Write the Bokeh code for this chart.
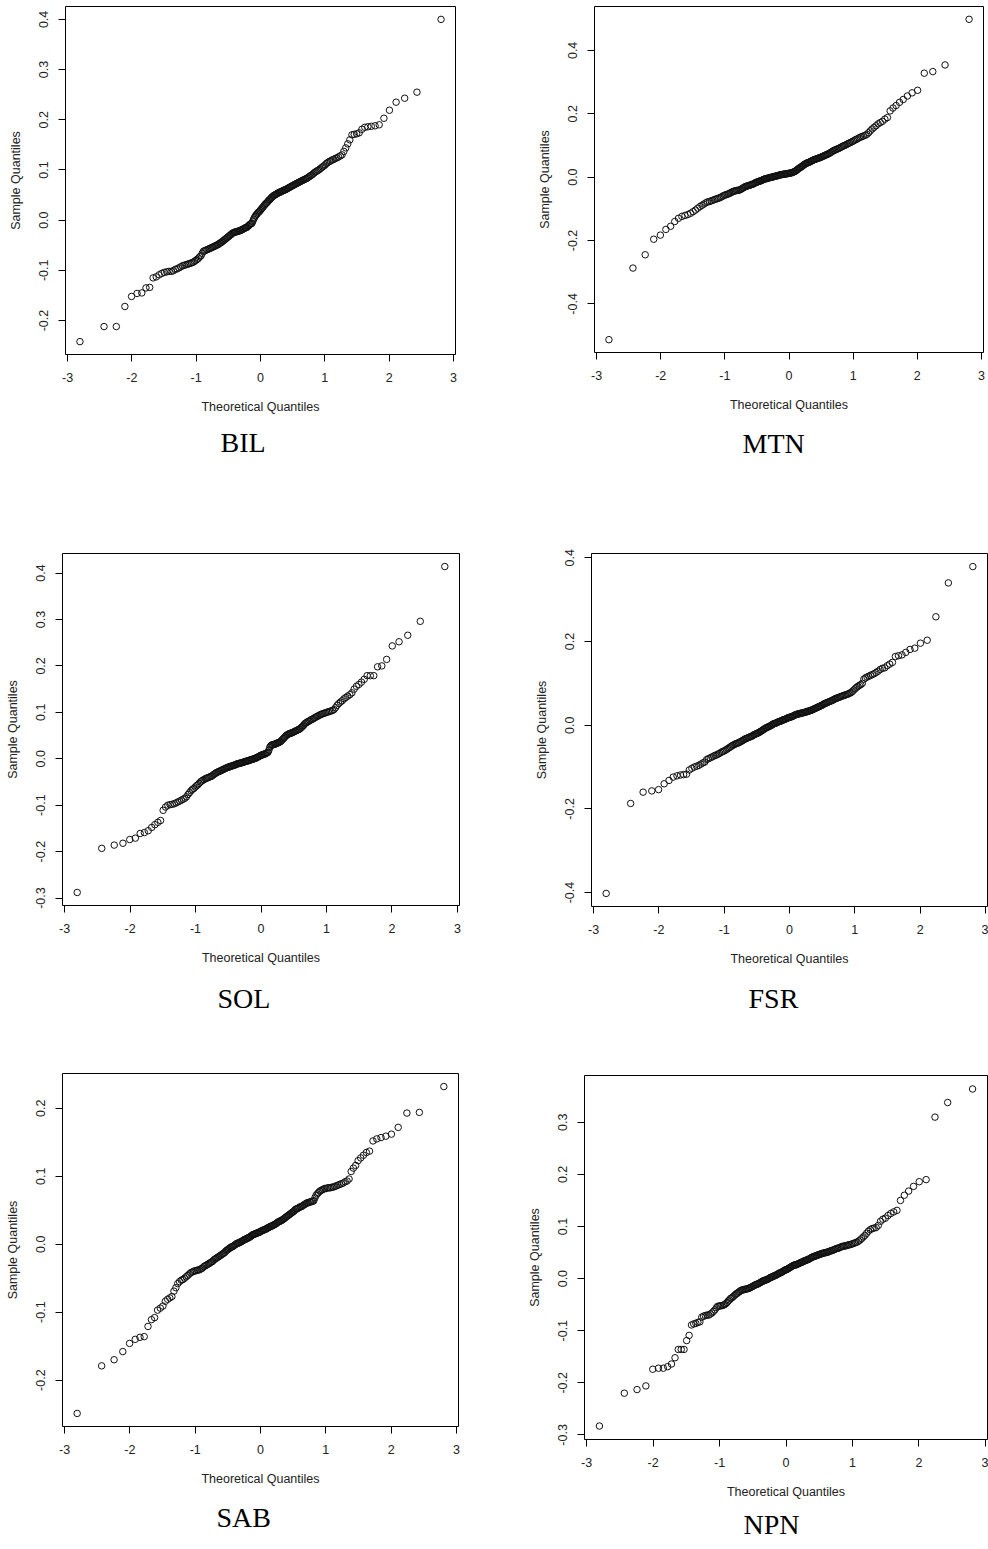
from statistics import NormalDist
from bokeh.plotting import figure
from bokeh.models import Range1d, FixedTicker, PrintfTickFormatter, Title
from bokeh.layouts import column, row
from bokeh.embed import file_html
from bokeh.resources import INLINE

# ---------------- data (sorted sample quantiles) ----------------
panel_names = ["BIL", "MTN", "SOL", "FSR", "SAB", "NPN"]

bil = [
    -0.242, -0.212, -0.212, -0.172, -0.152, -0.146, -0.145, -0.135, -0.134, -0.115,
    -0.113, -0.109, -0.106, -0.104, -0.103, -0.102, -0.102, -0.101, -0.098, -0.097,
    -0.095, -0.093, -0.091, -0.090, -0.089, -0.088, -0.087, -0.086, -0.085, -0.084,
    -0.082, -0.080, -0.078, -0.076, -0.073, -0.071, -0.066, -0.062, -0.061, -0.060,
    -0.059, -0.058, -0.057, -0.056, -0.055, -0.054, -0.053, -0.052, -0.051, -0.050,
    -0.049, -0.048, -0.046, -0.045, -0.044, -0.042, -0.041, -0.039, -0.038, -0.036,
    -0.035, -0.033, -0.032, -0.030, -0.029, -0.027, -0.026, -0.025, -0.024, -0.024,
    -0.023, -0.023, -0.022, -0.022, -0.021, -0.020, -0.020, -0.019, -0.018, -0.017,
    -0.016, -0.015, -0.015, -0.014, -0.012, -0.011, -0.009, -0.008, -0.007, -0.006,
    -0.002, 0.002, 0.005, 0.008, 0.010, 0.012, 0.014, 0.016, 0.017, 0.019,
    0.021, 0.023, 0.025, 0.027, 0.029, 0.031, 0.033, 0.034, 0.036, 0.038,
    0.040, 0.041, 0.043, 0.045, 0.046, 0.048, 0.049, 0.050, 0.051, 0.052,
    0.053, 0.054, 0.055, 0.056, 0.056, 0.057, 0.058, 0.059, 0.060, 0.060,
    0.061, 0.062, 0.063, 0.064, 0.065, 0.066, 0.067, 0.068, 0.069, 0.070,
    0.071, 0.072, 0.073, 0.074, 0.075, 0.076, 0.077, 0.078, 0.079, 0.080,
    0.081, 0.082, 0.083, 0.084, 0.086, 0.087, 0.089, 0.090, 0.092, 0.094,
    0.096, 0.097, 0.099, 0.100, 0.102, 0.104, 0.106, 0.108, 0.110, 0.113,
    0.115, 0.117, 0.118, 0.120, 0.121, 0.123, 0.124, 0.126, 0.128, 0.130,
    0.137, 0.144, 0.152, 0.160, 0.170, 0.171, 0.172, 0.174, 0.181, 0.185,
    0.186, 0.187, 0.188, 0.190, 0.203, 0.219, 0.235, 0.243, 0.255, 0.400,
]

mtn = [
    -0.513, -0.287, -0.245, -0.196, -0.183, -0.165, -0.155, -0.140, -0.130, -0.124,
    -0.121, -0.118, -0.114, -0.109, -0.104, -0.098, -0.093, -0.089, -0.085, -0.081,
    -0.078, -0.077, -0.075, -0.073, -0.071, -0.069, -0.068, -0.066, -0.064, -0.062,
    -0.059, -0.057, -0.056, -0.054, -0.053, -0.051, -0.049, -0.047, -0.045, -0.044,
    -0.043, -0.042, -0.042, -0.041, -0.040, -0.038, -0.036, -0.034, -0.032, -0.030,
    -0.029, -0.028, -0.027, -0.026, -0.025, -0.024, -0.023, -0.022, -0.020, -0.019,
    -0.017, -0.016, -0.015, -0.014, -0.013, -0.012, -0.011, -0.010, -0.008, -0.007,
    -0.006, -0.005, -0.005, -0.004, -0.003, -0.002, -0.002, -0.001, 0.000, 0.000,
    0.001, 0.002, 0.002, 0.003, 0.004, 0.004, 0.005, 0.006, 0.007, 0.007,
    0.008, 0.008, 0.009, 0.009, 0.010, 0.010, 0.010, 0.011, 0.011, 0.012,
    0.012, 0.013, 0.013, 0.014, 0.015, 0.016, 0.017, 0.018, 0.020, 0.022,
    0.024, 0.026, 0.028, 0.030, 0.031, 0.033, 0.035, 0.037, 0.039, 0.041,
    0.042, 0.044, 0.045, 0.046, 0.047, 0.048, 0.050, 0.051, 0.052, 0.054,
    0.055, 0.056, 0.057, 0.058, 0.059, 0.060, 0.061, 0.062, 0.063, 0.065,
    0.066, 0.067, 0.069, 0.070, 0.071, 0.073, 0.074, 0.076, 0.078, 0.080,
    0.082, 0.084, 0.085, 0.087, 0.088, 0.090, 0.091, 0.093, 0.095, 0.097,
    0.099, 0.100, 0.102, 0.104, 0.106, 0.108, 0.110, 0.112, 0.114, 0.117,
    0.119, 0.121, 0.124, 0.126, 0.128, 0.130, 0.132, 0.135, 0.140, 0.146,
    0.152, 0.157, 0.162, 0.168, 0.172, 0.176, 0.183, 0.188, 0.209, 0.218,
    0.226, 0.236, 0.245, 0.256, 0.266, 0.274, 0.328, 0.333, 0.354, 0.498,
]

sol = [
    -0.288, -0.193, -0.186, -0.182, -0.174, -0.171, -0.161, -0.159, -0.155, -0.148,
    -0.142, -0.137, -0.133, -0.111, -0.104, -0.100, -0.099, -0.098, -0.097, -0.095,
    -0.093, -0.091, -0.089, -0.087, -0.085, -0.082, -0.077, -0.073, -0.069, -0.066,
    -0.064, -0.061, -0.058, -0.056, -0.053, -0.050, -0.048, -0.046, -0.045, -0.043,
    -0.042, -0.041, -0.040, -0.039, -0.038, -0.037, -0.035, -0.033, -0.032, -0.030,
    -0.029, -0.028, -0.027, -0.026, -0.025, -0.024, -0.023, -0.022, -0.021, -0.020,
    -0.019, -0.018, -0.018, -0.017, -0.016, -0.016, -0.015, -0.014, -0.014, -0.013,
    -0.012, -0.011, -0.011, -0.010, -0.010, -0.009, -0.009, -0.008, -0.008, -0.007,
    -0.006, -0.006, -0.005, -0.005, -0.004, -0.004, -0.003, -0.002, -0.002, -0.001,
    -0.001, 0.000, 0.001, 0.001, 0.002, 0.003, 0.004, 0.005, 0.006, 0.007,
    0.008, 0.008, 0.009, 0.010, 0.010, 0.011, 0.012, 0.013, 0.014, 0.018,
    0.024, 0.027, 0.029, 0.030, 0.030, 0.031, 0.031, 0.032, 0.033, 0.034,
    0.034, 0.035, 0.036, 0.037, 0.039, 0.041, 0.043, 0.045, 0.047, 0.049,
    0.051, 0.052, 0.053, 0.054, 0.055, 0.055, 0.056, 0.057, 0.058, 0.059,
    0.060, 0.061, 0.062, 0.063, 0.064, 0.066, 0.068, 0.070, 0.072, 0.075,
    0.077, 0.078, 0.080, 0.081, 0.082, 0.084, 0.085, 0.086, 0.088, 0.089,
    0.091, 0.092, 0.093, 0.095, 0.096, 0.097, 0.098, 0.099, 0.100, 0.101,
    0.102, 0.103, 0.104, 0.106, 0.110, 0.115, 0.119, 0.122, 0.125, 0.129,
    0.132, 0.135, 0.138, 0.142, 0.150, 0.156, 0.160, 0.165, 0.171, 0.179,
    0.179, 0.179, 0.198, 0.200, 0.214, 0.243, 0.252, 0.266, 0.296, 0.414,
]

fsr = [
    -0.402, -0.187, -0.160, -0.157, -0.154, -0.140, -0.132, -0.124, -0.121, -0.119,
    -0.118, -0.117, -0.107, -0.103, -0.100, -0.098, -0.096, -0.093, -0.090, -0.088,
    -0.082, -0.080, -0.078, -0.076, -0.074, -0.072, -0.071, -0.069, -0.067, -0.065,
    -0.063, -0.062, -0.060, -0.058, -0.056, -0.054, -0.052, -0.050, -0.048, -0.047,
    -0.045, -0.044, -0.043, -0.042, -0.041, -0.039, -0.038, -0.036, -0.035, -0.033,
    -0.032, -0.031, -0.030, -0.029, -0.028, -0.027, -0.026, -0.025, -0.023, -0.022,
    -0.021, -0.020, -0.019, -0.018, -0.017, -0.015, -0.014, -0.013, -0.011, -0.010,
    -0.008, -0.007, -0.006, -0.005, -0.004, -0.003, -0.002, -0.001, 0.000, 0.002,
    0.003, 0.004, 0.004, 0.005, 0.006, 0.007, 0.008, 0.009, 0.009, 0.010,
    0.011, 0.012, 0.013, 0.013, 0.014, 0.015, 0.016, 0.017, 0.018, 0.018,
    0.019, 0.020, 0.020, 0.021, 0.022, 0.023, 0.024, 0.025, 0.026, 0.026,
    0.027, 0.027, 0.028, 0.028, 0.029, 0.029, 0.030, 0.030, 0.031, 0.031,
    0.032, 0.033, 0.033, 0.034, 0.035, 0.035, 0.036, 0.037, 0.038, 0.039,
    0.040, 0.041, 0.042, 0.043, 0.044, 0.045, 0.046, 0.047, 0.048, 0.050,
    0.051, 0.052, 0.053, 0.054, 0.055, 0.056, 0.057, 0.058, 0.059, 0.060,
    0.062, 0.063, 0.064, 0.065, 0.066, 0.067, 0.068, 0.069, 0.070, 0.071,
    0.072, 0.073, 0.074, 0.075, 0.077, 0.078, 0.081, 0.084, 0.087, 0.090,
    0.093, 0.095, 0.097, 0.100, 0.110, 0.113, 0.115, 0.117, 0.119, 0.121,
    0.123, 0.126, 0.129, 0.133, 0.136, 0.137, 0.142, 0.146, 0.150, 0.164,
    0.166, 0.168, 0.174, 0.181, 0.184, 0.196, 0.203, 0.259, 0.340, 0.379,
]

sab = [
    -0.249, -0.179, -0.170, -0.158, -0.146, -0.140, -0.137, -0.136, -0.121, -0.111,
    -0.108, -0.097, -0.094, -0.091, -0.084, -0.081, -0.079, -0.077, -0.069, -0.064,
    -0.058, -0.055, -0.053, -0.052, -0.050, -0.048, -0.046, -0.044, -0.042, -0.041,
    -0.040, -0.039, -0.039, -0.038, -0.038, -0.037, -0.036, -0.035, -0.033, -0.032,
    -0.031, -0.030, -0.029, -0.028, -0.027, -0.026, -0.025, -0.023, -0.022, -0.021,
    -0.020, -0.019, -0.018, -0.017, -0.016, -0.015, -0.014, -0.013, -0.012, -0.010,
    -0.009, -0.008, -0.007, -0.006, -0.005, -0.004, -0.004, -0.003, -0.002, -0.001,
    0.000, 0.001, 0.001, 0.002, 0.002, 0.003, 0.004, 0.004, 0.005, 0.006,
    0.007, 0.007, 0.008, 0.008, 0.009, 0.010, 0.010, 0.011, 0.012, 0.013,
    0.014, 0.014, 0.015, 0.015, 0.016, 0.016, 0.017, 0.017, 0.018, 0.018,
    0.019, 0.020, 0.020, 0.021, 0.021, 0.022, 0.022, 0.023, 0.024, 0.024,
    0.025, 0.026, 0.026, 0.027, 0.027, 0.028, 0.029, 0.029, 0.030, 0.031,
    0.032, 0.033, 0.033, 0.034, 0.035, 0.035, 0.036, 0.037, 0.038, 0.039,
    0.040, 0.041, 0.042, 0.043, 0.044, 0.045, 0.046, 0.047, 0.048, 0.049,
    0.051, 0.052, 0.052, 0.053, 0.054, 0.055, 0.055, 0.056, 0.057, 0.058,
    0.059, 0.060, 0.061, 0.061, 0.062, 0.062, 0.063, 0.063, 0.064, 0.068,
    0.072, 0.074, 0.076, 0.078, 0.079, 0.080, 0.081, 0.082, 0.082, 0.083,
    0.083, 0.083, 0.084, 0.084, 0.085, 0.086, 0.087, 0.088, 0.089, 0.090,
    0.092, 0.093, 0.096, 0.107, 0.112, 0.116, 0.123, 0.127, 0.131, 0.135,
    0.137, 0.152, 0.155, 0.157, 0.159, 0.162, 0.172, 0.193, 0.194, 0.232,
]

npn = [
    -0.283, -0.220, -0.213, -0.206, -0.174, -0.172, -0.172, -0.169, -0.164, -0.152,
    -0.136, -0.136, -0.136, -0.119, -0.109, -0.089, -0.087, -0.086, -0.084, -0.083,
    -0.074, -0.072, -0.071, -0.070, -0.070, -0.068, -0.066, -0.063, -0.060, -0.056,
    -0.053, -0.053, -0.052, -0.052, -0.051, -0.050, -0.048, -0.046, -0.043, -0.041,
    -0.038, -0.037, -0.035, -0.033, -0.031, -0.029, -0.028, -0.026, -0.025, -0.023,
    -0.022, -0.022, -0.021, -0.021, -0.020, -0.020, -0.019, -0.019, -0.018, -0.017,
    -0.016, -0.015, -0.014, -0.013, -0.012, -0.011, -0.011, -0.010, -0.009, -0.008,
    -0.007, -0.006, -0.005, -0.004, -0.004, -0.003, -0.002, -0.002, -0.001, 0.000,
    0.001, 0.002, 0.003, 0.003, 0.004, 0.005, 0.006, 0.006, 0.007, 0.008,
    0.009, 0.010, 0.011, 0.011, 0.012, 0.013, 0.014, 0.015, 0.016, 0.017,
    0.017, 0.018, 0.019, 0.020, 0.021, 0.022, 0.023, 0.024, 0.025, 0.026,
    0.026, 0.026, 0.027, 0.028, 0.028, 0.029, 0.030, 0.031, 0.031, 0.032,
    0.033, 0.034, 0.034, 0.035, 0.036, 0.036, 0.037, 0.038, 0.039, 0.040,
    0.041, 0.042, 0.042, 0.043, 0.044, 0.044, 0.045, 0.046, 0.046, 0.047,
    0.048, 0.048, 0.049, 0.049, 0.050, 0.050, 0.051, 0.051, 0.052, 0.053,
    0.054, 0.054, 0.055, 0.056, 0.057, 0.058, 0.058, 0.059, 0.060, 0.061,
    0.062, 0.062, 0.063, 0.063, 0.064, 0.065, 0.065, 0.066, 0.067, 0.068,
    0.069, 0.070, 0.072, 0.074, 0.077, 0.080, 0.083, 0.087, 0.091, 0.094,
    0.096, 0.097, 0.098, 0.102, 0.110, 0.114, 0.116, 0.121, 0.125, 0.128,
    0.131, 0.150, 0.160, 0.168, 0.177, 0.186, 0.190, 0.310, 0.338, 0.364,
]

samples = [bil, mtn, sol, fsr, sab, npn]

x_ticks = [-3, -2, -1, 0, 1, 2, 3]
y_ticks = [
    [-0.2, -0.1, 0.0, 0.1, 0.2, 0.3, 0.4],
    [-0.4, -0.2, 0.0, 0.2, 0.4],
    [-0.3, -0.2, -0.1, 0.0, 0.1, 0.2, 0.3, 0.4],
    [-0.4, -0.2, 0.0, 0.2, 0.4],
    [-0.2, -0.1, 0.0, 0.1, 0.2],
    [-0.3, -0.2, -0.1, 0.0, 0.1, 0.2, 0.3],
]

# ---------------- layout / style ----------------
# (width, height, min_border left, right, top, bottom, label x offset, label standoff)
geom = [
    (520, 520, 65, 65, 6, 166, 155, 16),
    (468, 520, 74, 5, 6, 168, 148, 22),
    (520, 525, 62, 61, 33, 140, 155, 26),
    (468, 525, 71, 1, 33, 139, 157, 24),
    (520, 500, 62, 62, 28, 119, 154, 22),
    (468, 500, 64, 1, 30, 106, 159, 10),
]

SANS = "Liberation Sans"
SERIF = "Liberation Serif"
TXT = "#222222"


def theoretical_quantiles(n):
    nd = NormalDist()
    return [nd.inv_cdf((i - 0.5) / n) for i in range(1, n + 1)]


def r_extend(lo, hi):
    d = (hi - lo) * 0.04
    return lo - d, hi + d


def make_panel(name, sample, yticks, g):
    w, h, bl, br, bt, bb, off, lstand = g
    s = sorted(sample)
    q = theoretical_quantiles(len(s))
    x0, x1 = r_extend(min(q), max(q))
    y0, y1 = r_extend(min(s), max(s))
    p = figure(width=w, height=h, x_range=Range1d(x0, x1), y_range=Range1d(y0, y1),
               output_backend="svg", toolbar_location=None,
               min_border_left=bl, min_border_right=br,
               min_border_top=bt, min_border_bottom=bb)
    p.frame_align = False
    p.scatter(x=q, y=s, marker="circle", size=6.5, fill_color=None,
              line_color="#111111", line_width=1)
    p.grid.visible = False
    p.outline_line_color = "black"
    p.outline_line_width = 1
    p.outline_line_alpha = 1
    p.background_fill_color = "white"
    p.border_fill_color = "white"

    p.xaxis.ticker = FixedTicker(ticks=x_ticks)
    p.xaxis.formatter = PrintfTickFormatter(format="%d")
    p.yaxis.ticker = FixedTicker(ticks=yticks)
    p.yaxis.formatter = PrintfTickFormatter(format="%.1f")
    p.yaxis.major_label_orientation = "parallel"
    p.xaxis.axis_label = "Theoretical Quantiles"
    p.yaxis.axis_label = "Sample Quantiles"
    p.xaxis.major_label_standoff = 11
    p.yaxis.major_label_standoff = 10
    p.xaxis.axis_label_standoff = 15
    p.yaxis.axis_label_standoff = 14
    for ax in (p.xaxis[0], p.yaxis[0]):
        ax.axis_line_color = None
        ax.major_tick_out = 7
        ax.major_tick_in = 0
        ax.major_tick_line_color = "black"
        ax.minor_tick_line_color = None
        ax.major_label_text_font = SANS
        ax.major_label_text_font_size = "12.5px"
        ax.major_label_text_color = TXT
        ax.axis_label_text_font = SANS
        ax.axis_label_text_font_size = "12.5px"
        ax.axis_label_text_font_style = "normal"
        ax.axis_label_text_color = TXT

    p.add_layout(Title(text=name, text_font=SERIF, text_font_size="28px",
                       text_font_style="normal", text_color="black",
                       align="left", offset=off, standoff=lstand), "below")
    return p


panels = [make_panel(n, s, t, g) for n, s, t, g in zip(panel_names, samples, y_ticks, geom)]

layout = column(
    row(panels[0], panels[1]),
    row(panels[2], panels[3]),
    row(panels[4], panels[5]),
)

open("out.html", "w").write(file_html(layout, INLINE))
